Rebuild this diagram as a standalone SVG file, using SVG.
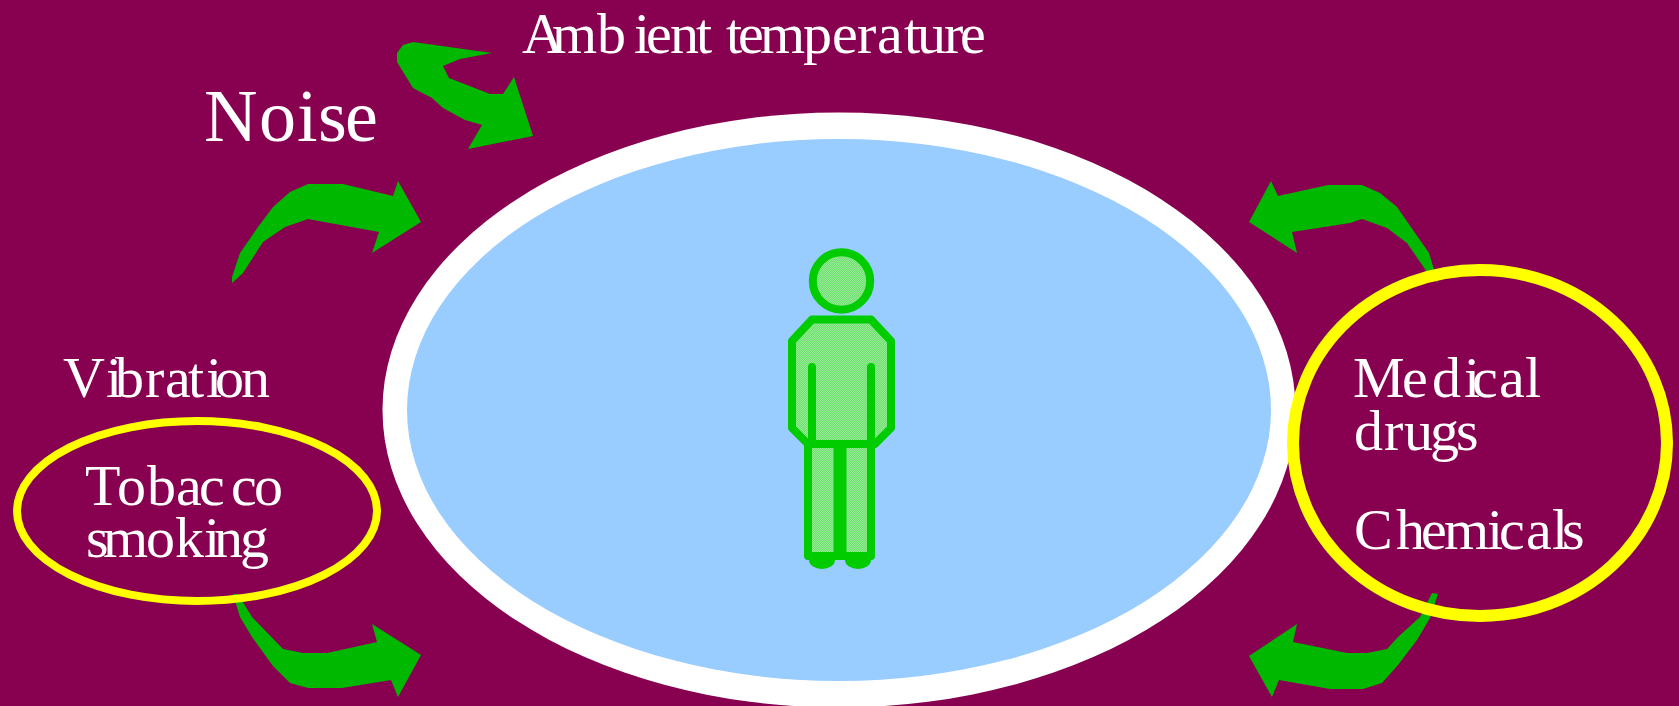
<svg xmlns="http://www.w3.org/2000/svg" width="1679" height="706" viewBox="0 0 1679 706">
<style>
.t{font-family:"Liberation Serif","Times New Roman",serif;fill:#fff;font-size:58px}
.a{fill:#00b800}
.p{fill:url(#dither);stroke:#00cc00;stroke-width:8;stroke-linecap:round;stroke-linejoin:round}
.y{fill:none;stroke:#ffff00}
</style>
<defs>
<pattern id="dither" patternUnits="userSpaceOnUse" width="2" height="2">
<rect width="2" height="2" fill="#6fe06f"/>
<rect width="1" height="1" fill="#94ea94"/>
<rect x="1" y="1" width="1" height="1" fill="#94ea94"/>
</pattern>
</defs>
<rect width="1679" height="706" fill="#880050"/>
<g id="field"><ellipse cx="839" cy="410" rx="456.500" ry="297.500" fill="#fff"/><ellipse cx="839" cy="410" rx="432" ry="271" fill="#99ccff"/></g>
<g id="ellipse-fills"><ellipse cx="197" cy="511" rx="180" ry="90" fill="#880050"/><ellipse cx="1480" cy="443" rx="187" ry="173" fill="#880050"/></g>
<g id="connectors">
<polygon class="a" points="232,283 232,277 240,253 258,227 273,207 290,192 308,184 343,184 393,196 398,181 421,222 372,253 379,232 308,219 285,227 263,242 243,273"/>
<polygon class="a" points="492,53 413,42 403,45 397,53 397,62 413,88 432,98 443,108 465,120 482,125 468,149 533,136 514,77 503,94 490,94 449,78 443,66 460,59"/>
<polygon class="a" points="1438,283 1429,253 1397,207 1380,193 1362,185 1328,185 1278,196 1271,181 1249,222 1297,253 1292,232 1350,223 1362,219 1387,228 1407,243 1427,272"/>
<polygon class="a" points="1438,594 1432,593 1420,617 1398,637 1387,649 1367,653 1347,653 1293,642 1297,624 1249,656 1272,697 1279,680 1330,689 1363,689 1382,683 1398,665 1417,640 1430,618"/>
<polygon class="a" points="233,594 238,594 252,617 283,649 303,653 327,653 377,642 372,624 421,655 398,697 391,680 342,688 308,688 290,683 273,666 252,637 240,617"/>
</g>
<g id="ellipse-left"><ellipse class="y" cx="197" cy="511" rx="180" ry="90" stroke-width="8"/></g>
<g id="ellipse-right"><ellipse class="y" cx="1480" cy="443" rx="187" ry="173" stroke-width="12"/></g>
<g id="person">
<ellipse cx="822" cy="560" rx="13" ry="9" fill="#00cc00"/>
<ellipse cx="858" cy="560" rx="13" ry="9" fill="#00cc00"/>
<rect class="p" x="808" y="444" width="63" height="112"/>
<line x1="840" y1="444" x2="840" y2="556" stroke="#00cc00" stroke-width="13"/>
<polygon class="p" points="812,319.500 871,319.500 891,341 891,428 875,444 808,444 792,428 792,341"/>
<line class="p" x1="812" y1="367" x2="812" y2="440"/>
<line class="p" x1="871" y1="367" x2="871" y2="440"/>
<circle class="p" cx="841.500" cy="281" r="28.700"/>
</g>
<g id="labels">
<text class="t" y="52.500" x="522 552 597 634 646 670 696 712 726 738 760 803 832 857 877 904 917 944 960">Ambient temperature</text>
<text class="t" y="141" style="font-size:74px" x="204 259 297 318 345">Noise</text>
<text class="t" y="397" x="63 106 115 145 165 188 206 215 241">Vibration</text>
<text class="t" y="505" x="85 117 147 176 199 231 254">Tobacco</text>
<text class="t" y="557" x="86 103 146 175 204 214 240">smoking</text>
<text class="t" y="397" x="1353 1402 1432 1464 1472 1499 1525">Medical</text>
<text class="t" y="450" x="1354 1384 1404 1430 1456">drugs</text>
<text class="t" y="549" x="1354 1396 1421 1444 1487 1499 1526 1552 1562">Chemicals</text>
</g>
</svg>
